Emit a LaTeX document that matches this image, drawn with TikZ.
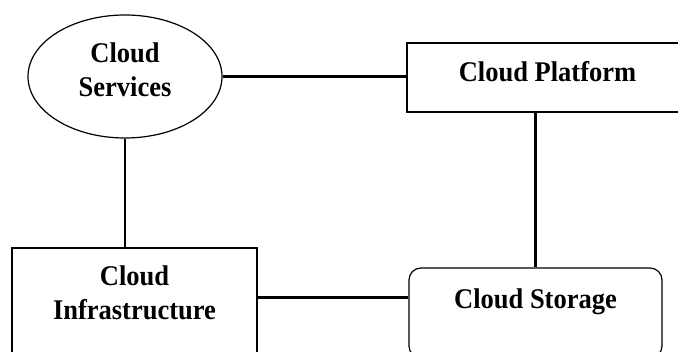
\documentclass[tikz,border=0pt]{standalone}
\usepackage{fontspec}
\setmainfont{Liberation Serif}[FakeStretch=0.93]
\usetikzlibrary{shapes.geometric,calc}

\begin{document}
\begin{tikzpicture}[x=1pt, y=-1pt,
	cloud text/.style={font=\fontsize{28.5}{33.5}\selectfont\bfseries, align=center, inner sep=0pt, anchor=base},
	box/.style={draw, line width=1.2pt, cloud text},
	link/.style={line width=2.3pt}]
	\useasboundingbox (0,0) rectangle (678,352);
	\clip (0,0) rectangle (678,352);
	\node[box, ellipse, text width=120pt, text height=20pt, text depth=47pt, minimum width=194pt, minimum height=123pt] (svc) at (125,63) {Cloud\\Services};
	\node[box, minimum width=281pt, text height=38.7pt, text depth=30.3pt] (plat) at (547.5,81.7) {Cloud Platform};
	\node[box, text width=170pt, minimum width=245pt, text height=37.7pt, text depth=86pt] (infra) at (134.5,285.7) {Cloud\\Infrastructure};
	\node[box, rounded corners=12pt, minimum width=253pt, text height=41pt, text depth=49pt] (stor) at (535.5,309) {Cloud Storage};
	\draw[link] (svc.east) -- (svc.east -| plat.west);
	\draw[link] (svc.south) -- (svc.south |- infra.north);
	\draw[link] (stor.north |- plat.south) -- (stor.north);
	\draw[link] ($(infra.north east)!.4!(infra.south east)$) coordinate (mid) -- (mid -| stor.west);
\end{tikzpicture}
\end{document}
